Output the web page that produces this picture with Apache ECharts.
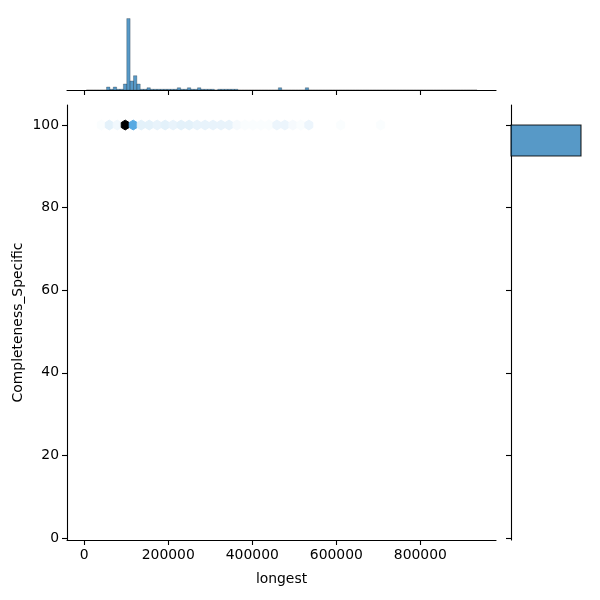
<!DOCTYPE html>
<html><head><meta charset="utf-8">
<script src="https://cdn.jsdelivr.net/npm/echarts@6/dist/echarts.min.js"></script>
<style>html,body{margin:0;padding:0;background:#fff}#c{width:600px;height:600px}</style>
</head><body><div id="c"></div>
<script>
// ---- data ----
const xTicks = [0, 200000, 400000, 600000, 800000];
const yTicks = [0, 20, 40, 60, 80, 100];
const xName = 'longest';
const yName = 'Completeness_Specific';

// hexbin row at y = 100 : hex centre x and count
const hexY = 100;
const hexX = [2600, 40600, 59600, 78600, 97600, 116600, 135600, 154600, 173600, 192600, 211600, 230600, 249600, 268600, 287600, 306600, 325600, 344600, 363600, 382600, 401600, 420600, 439600, 458600, 477600, 496600, 515600, 534600, 610600, 705600, 933600];
const hexCounts = [1, 2, 7, 4, 94, 37, 7, 7, 6, 7, 6, 7, 7, 6, 6, 6, 6, 6, 3, 2, 2, 2, 2, 5, 5, 3, 2, 5, 2, 2, 1];

// top marginal histogram of x: start, bin width, number of bins, non-empty bins [index, count]
const xHistStart = 5000;
const xHistBinWidth = 8017;
const xHistBins = 116;
const xHistNonZero = [[6,4],[7,1],[8,4],[9,1],[10,1],[11,8],[12,95],[13,12],[14,19],[15,8],[16,1],[17,1],[18,3],
  [19,1],[20,1],[21,1],[22,1],[23,1],[24,1],[25,1],[26,1],[27,3],[28,1],[29,1],[30,3],[31,1],[32,1],[33,3],
  [34,1],[35,1],[36,1],[37,1],[39,1],[40,1],[41,1],[42,1],[43,1],[44,1],[57,3],[65,3]];

// right marginal histogram of y: [from, to, count]
const yHist = [[92.5, 100, 197]];

// ---- axis extents ----
const xMin = -41000, xMax = 980000;
const yMin = -0.5, yMax = 104.85;
const hexDx = 19000, hexDy = 3.56;

// seaborn hex colormap: C0 hue/saturation, lightness 1 -> 0
function rgb2hls(r,g,b){const mx=Math.max(r,g,b),mn=Math.min(r,g,b);const l=(mx+mn)/2;if(mx===mn)return[0,l,0];const d=mx-mn;const s=l<=0.5?d/(mx+mn):d/(2-mx-mn);let h;if(mx===r)h=(g-b)/d;else if(mx===g)h=2+(b-r)/d;else h=4+(r-g)/d;h=(h/6)%1;if(h<0)h+=1;return[h,l,s];}
function vv(m1,m2,h){h=((h%1)+1)%1;if(h<1/6)return m1+(m2-m1)*h*6;if(h<0.5)return m2;if(h<2/3)return m1+(m2-m1)*(2/3-h)*6;return m1;}
function hls2rgb(h,l,s){if(s===0)return[l,l,l];const m2=l<=0.5?l*(1+s):l+s-l*s;const m1=2*l-m2;return[vv(m1,m2,h+1/3),vv(m1,m2,h),vv(m1,m2,h-1/3)];}
const baseHLS = rgb2hls(31/255,119/255,180/255);
const nodes = [];
for(let i=0;i<12;i++){const l=1-i/11;nodes.push(hls2rgb(baseHLS[0],l,baseHLS[2]));}
function cmap(t){t=Math.max(0,Math.min(1,t));const p=t*11;const i=Math.min(10,Math.floor(p));const f=p-i;const a=nodes[i],b=nodes[i+1];
  const c=[0,1,2].map(k=>Math.round((a[k]+(b[k]-a[k])*f)*255));return 'rgb('+c.join(',')+')';}
const cMin = Math.min(...hexCounts), cMax = Math.max(...hexCounts);

const hexData = hexX.map((x,i)=>[x, hexY, hexCounts[i]]);
const countMap = {}; xHistNonZero.forEach(d=>countMap[d[0]]=d[1]);
const xHistData = [];
for(let i=0;i<xHistBins;i++){xHistData.push([xHistStart+i*xHistBinWidth, xHistStart+(i+1)*xHistBinWidth, countMap[i]||0]);}
const xHistMax = Math.max(...xHistNonZero.map(d=>d[1]));
const yHistMax = Math.max(...yHist.map(d=>d[2]));

const font = {color:'#000', fontSize:13.9, fontFamily:'DejaVu Sans'};
const lineSt = {color:'#000', width:1.1};
const plain = v => String(v);

const chart = echarts.init(document.getElementById('c'), null, {renderer:'canvas'});
chart.setOption({
  animation:false,
  backgroundColor:'#fff',
  grid:[
    {left:67, top:105, width:429, height:435},
    {left:67, top:15, width:429, height:75},
    {left:511, top:105, width:75, height:435}
  ],
  xAxis:[
    {gridIndex:0, type:'value', min:xMin, max:xMax, splitLine:{show:false},
     axisLine:{show:true, onZero:false, lineStyle:lineSt},
     axisTick:{show:true, length:5, customValues:xTicks, lineStyle:lineSt},
     axisLabel:{show:true, customValues:xTicks, margin:8, formatter:plain, ...font},
     name:xName, nameLocation:'middle', nameGap:32, nameTextStyle:font},
    {gridIndex:1, type:'value', min:xMin, max:xMax, splitLine:{show:false},
     axisLine:{show:true, onZero:false, lineStyle:lineSt},
     axisTick:{show:true, length:5, customValues:xTicks, lineStyle:lineSt},
     axisLabel:{show:false}},
    {gridIndex:2, type:'value', min:0, max:yHistMax*75/70, show:false}
  ],
  yAxis:[
    {gridIndex:0, type:'value', min:yMin, max:yMax, splitLine:{show:false},
     axisLine:{show:true, onZero:false, lineStyle:lineSt},
     axisTick:{show:true, length:5, customValues:yTicks, lineStyle:lineSt},
     axisLabel:{show:true, customValues:yTicks, margin:8, formatter:plain, ...font},
     name:yName, nameLocation:'middle', nameGap:42, nameMoveOverlap:false, nameTextStyle:font},
    {gridIndex:1, type:'value', min:0, max:xHistMax*1.05, show:false},
    {gridIndex:2, type:'value', min:yMin, max:yMax, splitLine:{show:false},
     axisLine:{show:true, onZero:false, lineStyle:lineSt},
     axisTick:{show:true, length:5, customValues:yTicks, lineStyle:lineSt},
     axisLabel:{show:false}}
  ],
  series:[
    {type:'custom', xAxisIndex:0, yAxisIndex:0, data:hexData,
     renderItem:function(params, api){
       const p = api.coord([api.value(0), api.value(1)]);
       const s = api.size([hexDx, hexDy]);
       const hw = s[0]/2, v = s[1]/3, sd = s[1]/6;
       const col = cmap((api.value(2)-cMin)/(cMax-cMin));
       return {type:'polygon', shape:{points:[[p[0]+hw,p[1]-sd],[p[0]+hw,p[1]+sd],[p[0],p[1]+v],[p[0]-hw,p[1]+sd],[p[0]-hw,p[1]-sd],[p[0],p[1]-v]]},
         style:{fill:col, stroke:col, lineWidth:1}};
     }},
    {type:'custom', xAxisIndex:1, yAxisIndex:1, data:xHistData,
     renderItem:function(params, api){
       const a = api.coord([api.value(0), api.value(2)]);
       const b = api.coord([api.value(1), 0]);
       return {type:'rect', shape:{x:a[0], y:a[1], width:b[0]-a[0], height:b[1]-a[1]},
         style:{fill:'rgba(31,119,180,0.75)', stroke:'rgba(0,0,0,0.6)', lineWidth:0.4}};
     }},
    {type:'custom', xAxisIndex:2, yAxisIndex:2, data:yHist,
     renderItem:function(params, api){
       const a = api.coord([0, api.value(1)]);
       const b = api.coord([api.value(2), api.value(0)]);
       return {type:'rect', shape:{x:a[0], y:a[1], width:b[0]-a[0], height:b[1]-a[1]},
         style:{fill:'rgba(31,119,180,0.75)', stroke:'rgba(0,0,0,0.85)', lineWidth:1.1}};
     }}
  ]
});
</script></body></html>
